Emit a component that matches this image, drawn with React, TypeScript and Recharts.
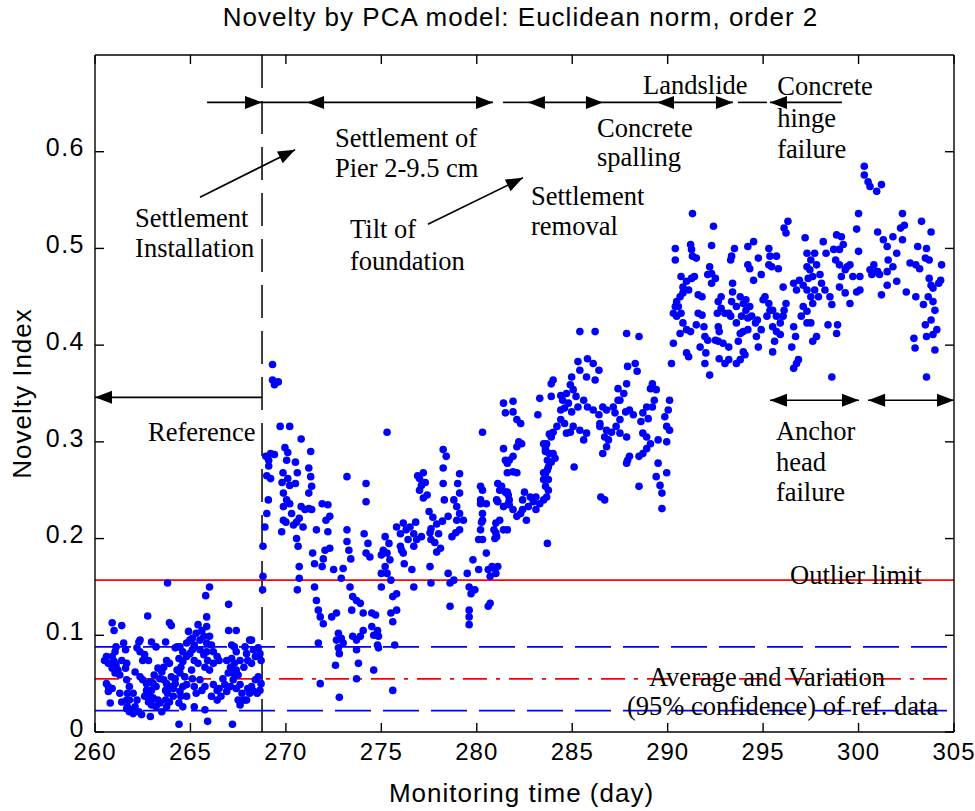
import React from 'react';
import { ScatterChart, Scatter, XAxis, YAxis, ReferenceLine } from 'recharts';

type Pt = [number, number];

const xTicks = [260, 265, 270, 275, 280, 285, 290, 295, 300, 305];
const yTicks = [0, 0.1, 0.2, 0.3, 0.4, 0.5, 0.6];

// reference period (before settlement installation)
const referenceData: Pt[] = [
  [260.6, 0.078], [260.5, 0.074], [260.7, 0.071], [260.9, 0.078], [261.0, 0.073], [261.1, 0.069], [261.2, 0.064], [261.3, 0.059],
  [261.05, 0.061], [260.9, 0.066], [260.6, 0.05], [260.7, 0.047], [260.9, 0.045], [260.7, 0.042], [260.8, 0.03],
  [261.66, 0.054], [261.8, 0.047], [261.7, 0.04], [261.66, 0.033], [261.8, 0.033], [261.7, 0.026], [261.9, 0.023], [262.0, 0.019],
  [262.1, 0.026], [262.2, 0.033], [262.0, 0.04], [261.8, 0.021], [261.66, 0.024], [262.3, 0.021],
  [262.36, 0.095], [262.2, 0.087], [262.36, 0.083], [262.6, 0.08], [262.8, 0.074], [262.5, 0.074],
  [262.1, 0.062], [262.36, 0.057], [262.5, 0.054], [262.7, 0.05], [262.9, 0.052], [263.05, 0.05], [263.2, 0.047], [262.96, 0.043],
  [262.7, 0.043], [262.6, 0.037], [262.9, 0.037], [263.05, 0.035], [263.3, 0.033], [263.4, 0.03], [263.2, 0.026], [262.96, 0.028], [262.8, 0.031],
  [262.44, 0.018], [262.9, 0.016], [263.5, 0.021], [263.75, 0.026], [263.9, 0.031], [263.7, 0.033], [264.1, 0.037], [263.8, 0.04],
  [263.3, 0.066], [263.5, 0.062], [263.1, 0.059], [263.4, 0.055], [263.6, 0.054], [263.75, 0.05], [263.9, 0.047], [263.7, 0.043],
  [264.1, 0.045], [264.2, 0.05], [264.0, 0.057], [264.2, 0.055],
  [264.2, 0.087], [264.45, 0.088], [264.6, 0.083], [264.4, 0.076], [264.6, 0.073], [264.8, 0.078], [264.97, 0.081], [265.1, 0.085],
  [265.2, 0.09], [264.8, 0.092],
  [264.3, 0.064], [264.5, 0.067], [264.45, 0.061], [264.7, 0.057], [264.8, 0.049], [264.6, 0.047], [264.45, 0.042], [264.5, 0.037],
  [264.4, 0.03], [264.8, 0.037], [264.6, 0.026], [265.2, 0.026], [265.1, 0.055], [265.2, 0.047], [265.3, 0.04], [265.06, 0.064],
  [264.4, 0.008], [265.9, 0.011], [267.2, 0.008], [265.76, 0.023],
  [264.9, 0.104], [264.97, 0.095], [265.1, 0.097], [265.3, 0.102], [265.5, 0.095], [265.7, 0.099], [265.85, 0.092], [265.2, 0.088],
  [265.5, 0.085], [265.7, 0.08], [265.85, 0.083], [266.1, 0.09], [266.2, 0.083], [266.4, 0.078], [266.5, 0.074], [265.9, 0.074],
  [266.2, 0.071], [266.0, 0.064], [265.76, 0.067], [265.4, 0.071], [265.2, 0.074],
  [265.5, 0.054], [265.6, 0.043], [265.76, 0.047], [266.2, 0.049], [266.4, 0.043], [266.1, 0.037], [266.4, 0.033], [266.6, 0.037],
  [266.5, 0.045], [266.8, 0.049], [266.9, 0.042], [267.1, 0.047], [266.7, 0.055], [266.98, 0.061],
  [266.9, 0.074], [267.16, 0.076], [267.3, 0.088], [267.16, 0.09], [267.4, 0.083], [267.6, 0.074], [267.3, 0.071], [267.1, 0.067],
  [267.24, 0.061], [267.5, 0.059], [267.4, 0.064], [267.8, 0.067], [268.0, 0.074], [267.94, 0.081], [267.86, 0.088], [268.1, 0.095],
  [268.3, 0.085], [268.4, 0.078], [268.2, 0.071],
  [267.24, 0.054], [267.4, 0.045], [267.6, 0.049], [267.7, 0.04], [267.5, 0.033], [267.8, 0.033], [267.6, 0.028], [268.0, 0.045],
  [268.2, 0.047], [267.94, 0.033], [268.1, 0.04], [268.3, 0.042], [268.5, 0.04], [268.64, 0.043], [268.4, 0.054], [268.55, 0.057],
  [268.7, 0.05], [268.7, 0.074], [268.64, 0.081], [268.55, 0.087],
  [261.4, 0.031], [261.3, 0.04], [261.5, 0.092], [261.6, 0.085], [262.96, 0.093], [263.2, 0.088], [263.75, 0.074], [263.9, 0.071],
  [263.6, 0.067], [261.4, 0.074], [261.66, 0.071], [261.6, 0.066],
  [263.8, 0.154], [266.0, 0.15], [265.8, 0.141], [267.0, 0.132], [262.76, 0.12], [265.85, 0.119], [263.9, 0.113], [264.0, 0.11],
  [260.9, 0.113], [261.0, 0.105], [261.4, 0.11], [265.0, 0.095], [265.4, 0.111], [265.6, 0.105], [265.85, 0.109], [266.0, 0.099],
  [267.0, 0.105], [267.4, 0.105], [268.2, 0.095], [263.7, 0.093], [264.3, 0.088], [262.3, 0.093], [261.1, 0.088], [261.05, 0.083],
];

// settlement of pier / tilt of foundation
const settlementData: Pt[] = [
  [269.3, 0.38], [269.3, 0.364], [269.4, 0.359], [269.6, 0.362], [269.7, 0.316], [270.2, 0.316], [270.8, 0.303], [271.3, 0.29],
  [268.95, 0.285], [269.1, 0.281], [269.2, 0.288], [269.4, 0.287], [269.1, 0.275], [269.0, 0.265], [269.2, 0.262],
  [269.85, 0.268], [270.1, 0.262], [269.8, 0.258], [270.2, 0.255], [270.5, 0.257],
  [269.95, 0.294], [270.1, 0.289], [270.04, 0.281], [270.5, 0.279], [270.6, 0.268],
  [271.2, 0.273], [271.3, 0.264], [271.35, 0.254], [271.2, 0.247],
  [269.08, 0.24], [269.0, 0.226], [268.9, 0.212], [268.8, 0.192], [268.8, 0.161], [268.78, 0.147],
  [269.87, 0.247], [270.04, 0.24], [269.87, 0.233], [270.2, 0.236], [270.3, 0.226],
  [269.87, 0.219], [270.0, 0.217], [269.78, 0.207], [270.4, 0.214], [270.56, 0.217], [270.7, 0.221], [270.9, 0.212],
  [270.56, 0.2], [270.64, 0.192], [270.7, 0.171], [270.8, 0.233], [271.0, 0.23], [271.2, 0.231], [271.35, 0.23],
  [270.7, 0.159], [270.6, 0.147], [271.6, 0.209], [271.4, 0.185], [271.5, 0.174], [271.9, 0.171],
  [271.9, 0.236], [272.2, 0.235], [272.3, 0.223], [272.1, 0.219], [272.2, 0.207], [272.05, 0.188], [272.3, 0.19], [271.96, 0.179],
  [271.5, 0.15], [271.6, 0.136], [271.7, 0.126], [271.8, 0.119], [271.96, 0.112], [271.7, 0.092], [271.8, 0.05],
  [272.5, 0.168], [273.0, 0.169], [272.9, 0.159], [272.4, 0.119], [272.65, 0.123],
  [272.75, 0.102], [272.65, 0.095], [272.9, 0.097], [272.75, 0.087], [273.0, 0.092], [272.8, 0.081], [272.6, 0.069], [272.8, 0.036],
  [273.2, 0.209], [273.2, 0.197], [273.3, 0.188], [273.4, 0.179], [273.2, 0.264],
  [273.36, 0.15], [273.5, 0.14], [273.7, 0.136], [273.9, 0.133], [273.45, 0.126], [274.05, 0.123],
  [273.5, 0.099], [273.7, 0.095], [273.9, 0.099], [274.05, 0.105], [273.7, 0.085], [273.8, 0.071], [273.7, 0.055],
  [274.2, 0.257], [274.2, 0.238], [274.1, 0.205], [274.3, 0.195], [274.2, 0.185], [274.4, 0.181], [274.5, 0.123], [274.7, 0.121],
  [274.5, 0.109], [274.6, 0.1], [274.8, 0.105], [274.85, 0.099], [274.8, 0.09], [274.85, 0.087], [274.6, 0.064],
  [275.0, 0.15], [275.0, 0.164], [275.2, 0.171], [275.3, 0.185], [275.1, 0.188], [275.0, 0.183], [275.2, 0.202], [275.4, 0.195],
  [275.45, 0.178], [275.3, 0.164], [275.3, 0.31],
  [275.5, 0.157], [275.6, 0.14], [275.8, 0.143], [275.5, 0.123], [275.8, 0.126], [275.6, 0.114], [275.7, 0.09], [275.6, 0.043],
  [275.8, 0.212], [276.0, 0.205], [276.15, 0.216], [276.3, 0.209], [276.0, 0.192], [276.15, 0.185], [276.4, 0.199], [276.2, 0.174], [276.06, 0.188],
  [276.5, 0.212], [276.7, 0.205], [276.8, 0.217], [276.7, 0.192], [276.85, 0.199], [277.1, 0.202], [276.6, 0.168], [276.7, 0.15],
  [276.9, 0.265], [277.0, 0.262], [277.2, 0.268], [277.1, 0.255], [277.0, 0.25], [277.3, 0.258], [277.4, 0.245], [277.2, 0.242],
  [277.5, 0.228], [277.7, 0.222], [277.9, 0.215], [277.6, 0.21], [278.0, 0.205], [278.2, 0.218], [277.8, 0.196], [278.1, 0.19], [277.9, 0.186],
  [277.55, 0.206], [277.6, 0.199], [277.55, 0.171], [277.6, 0.154],
  [278.24, 0.292], [278.4, 0.285], [278.24, 0.273], [278.24, 0.257], [278.3, 0.24], [278.5, 0.223],
  [278.5, 0.164], [278.6, 0.154], [278.8, 0.157], [278.6, 0.13],
  [278.8, 0.24], [278.95, 0.233], [279.1, 0.247], [279.0, 0.257], [279.1, 0.267],
  [278.7, 0.202], [278.9, 0.206], [279.1, 0.209], [279.3, 0.219], [279.1, 0.226], [278.95, 0.219],
  [279.5, 0.164], [279.6, 0.15], [279.7, 0.143], [279.9, 0.147], [279.6, 0.126], [279.6, 0.119], [279.6, 0.111],
  [279.8, 0.178], [280.1, 0.168], [280.1, 0.199], [280.2, 0.254], [280.25, 0.217], [280.2, 0.236], [280.3, 0.226], [280.3, 0.31],
  [280.5, 0.185], [280.7, 0.133], [280.6, 0.13],
  [280.6, 0.168], [280.8, 0.171], [280.95, 0.169], [281.1, 0.171], [280.7, 0.161], [281.0, 0.164],
  [281.0, 0.216], [281.2, 0.219], [281.0, 0.206], [280.95, 0.2], [281.1, 0.238], [281.6, 0.209], [281.65, 0.236],
  [280.3, 0.25], [280.2, 0.24], [280.5, 0.236], [281.2, 0.25], [281.6, 0.248], [281.7, 0.24], [281.4, 0.233], [281.04, 0.24],
  [281.9, 0.23], [282.1, 0.223], [282.3, 0.226], [280.9, 0.209], [281.04, 0.202], [281.4, 0.209],
  [280.3, 0.219], [280.2, 0.209], [280.3, 0.199],
];

// settlement removal / concrete spalling
const removalData: Pt[] = [
  [281.4, 0.34], [281.9, 0.342], [281.5, 0.33], [281.9, 0.331], [282.1, 0.323], [282.3, 0.319],
  [281.4, 0.293], [281.5, 0.281], [281.6, 0.278], [281.7, 0.281], [281.9, 0.285], [282.1, 0.295], [282.2, 0.3], [282.35, 0.298],
  [281.6, 0.268], [281.9, 0.269], [282.1, 0.268], [281.1, 0.257], [281.3, 0.254], [281.5, 0.248], [281.65, 0.245], [281.7, 0.235],
  [282.5, 0.248], [282.8, 0.243], [282.96, 0.238], [283.1, 0.243], [283.3, 0.236], [283.5, 0.24], [283.1, 0.23], [282.6, 0.219],
  [283.3, 0.345], [283.2, 0.328],
  [283.5, 0.298], [283.6, 0.29], [283.7, 0.281], [283.5, 0.268], [283.6, 0.254], [283.75, 0.261], [283.7, 0.195], [283.8, 0.308],
  [285.4, 0.414], [286.2, 0.414], [287.85, 0.412], [288.5, 0.409],
  [285.3, 0.383], [285.8, 0.386], [286.1, 0.381], [286.4, 0.374], [285.4, 0.374], [285.75, 0.367], [286.2, 0.364],
  [284.0, 0.364], [283.9, 0.36],
  [284.97, 0.367], [284.9, 0.359], [285.05, 0.354], [284.7, 0.35], [284.4, 0.348], [284.5, 0.343], [284.8, 0.34], [284.6, 0.335],
  [284.97, 0.331], [285.2, 0.347], [285.3, 0.336], [285.6, 0.343], [285.8, 0.336], [286.1, 0.333], [286.4, 0.328], [286.45, 0.319],
  [286.8, 0.333], [287.15, 0.336], [287.4, 0.343], [287.7, 0.35], [287.85, 0.36], [287.9, 0.378], [288.3, 0.381], [288.4, 0.373],
  [287.4, 0.355], [287.5, 0.343], [287.8, 0.331], [288.0, 0.333], [288.2, 0.328], [287.5, 0.323], [287.24, 0.33],
  [289.2, 0.36], [289.1, 0.355], [289.4, 0.354], [289.3, 0.343], [289.2, 0.336], [288.9, 0.336], [288.7, 0.33], [288.98, 0.324], [288.6, 0.321],
  [289.85, 0.326], [290.1, 0.343], [290.03, 0.333], [289.95, 0.316], [290.1, 0.312], [289.95, 0.3], [289.5, 0.302],
  [288.7, 0.309], [288.9, 0.305], [289.1, 0.298], [288.9, 0.293], [288.7, 0.288], [288.5, 0.285], [288.0, 0.285], [287.85, 0.278], [287.9, 0.281],
  [289.5, 0.278], [289.4, 0.264], [289.95, 0.268], [289.6, 0.255], [289.7, 0.247], [289.7, 0.231], [288.5, 0.254],
  [286.6, 0.336], [286.45, 0.316], [286.8, 0.312], [286.7, 0.305], [286.9, 0.302], [286.8, 0.295], [286.6, 0.288], [287.06, 0.31],
  [287.3, 0.316], [287.5, 0.309], [287.85, 0.305],
  [285.1, 0.274], [286.5, 0.243], [286.7, 0.24],
  [283.9, 0.347], [284.4, 0.333], [284.4, 0.323], [284.2, 0.316], [284.0, 0.31], [283.9, 0.305], [283.66, 0.298], [283.6, 0.295],
  [284.6, 0.319], [284.7, 0.309], [284.9, 0.31], [285.05, 0.316], [285.4, 0.312], [285.75, 0.309], [285.6, 0.302],
  [283.6, 0.292], [283.8, 0.288], [284.0, 0.288], [284.1, 0.283], [283.9, 0.279], [283.75, 0.274], [283.7, 0.271], [283.6, 0.267],
  [283.5, 0.261], [283.75, 0.25], [282.4, 0.24], [282.7, 0.233], [282.4, 0.23], [283.66, 0.243],
];

// landslide / concrete hinge failure
const failureData: Pt[] = [
  [290.4, 0.5], [290.4, 0.488], [291.2, 0.504], [291.25, 0.499], [291.3, 0.492], [291.5, 0.49], [292.3, 0.503],
  [290.7, 0.471], [290.99, 0.466], [291.25, 0.469], [291.4, 0.471], [290.8, 0.46], [291.1, 0.457], [290.8, 0.454], [290.65, 0.45],
  [290.47, 0.445], [290.4, 0.44], [290.56, 0.44], [290.3, 0.433], [290.47, 0.43], [290.7, 0.433], [290.8, 0.423], [290.65, 0.412],
  [290.99, 0.416], [291.2, 0.414], [290.3, 0.402], [290.2, 0.381],
  [291.6, 0.452], [291.8, 0.45], [291.6, 0.433], [291.8, 0.431], [291.5, 0.421], [291.9, 0.419], [291.7, 0.398], [291.95, 0.409],
  [292.1, 0.405], [291.1, 0.388], [292.0, 0.392], [291.95, 0.381], [292.2, 0.369],
  [292.2, 0.481], [292.3, 0.474], [292.1, 0.473], [292.5, 0.469], [292.3, 0.464],
  [292.8, 0.45], [292.65, 0.445], [292.8, 0.438], [292.6, 0.433], [293.0, 0.433], [293.2, 0.433], [292.65, 0.419], [292.7, 0.414],
  [292.5, 0.405], [292.65, 0.404], [292.9, 0.402], [293.2, 0.398], [292.7, 0.386], [293.2, 0.385], [293.0, 0.381],
  [293.3, 0.488], [293.35, 0.492], [293.5, 0.5], [293.4, 0.464], [293.4, 0.455], [293.35, 0.445], [293.6, 0.44], [293.3, 0.43],
  [293.6, 0.423], [293.8, 0.412], [293.7, 0.404], [293.96, 0.414], [293.6, 0.381], [293.8, 0.385], [294.05, 0.39], [293.96, 0.393],
  [293.8, 0.45], [293.96, 0.443], [294.1, 0.447], [294.3, 0.44], [294.1, 0.436], [293.87, 0.43], [294.2, 0.428], [294.4, 0.43],
  [294.6, 0.423], [294.7, 0.426], [294.2, 0.416],
  [294.2, 0.502], [294.5, 0.507], [294.3, 0.479], [294.5, 0.467], [294.2, 0.483],
  [294.75, 0.49], [295.3, 0.5], [295.36, 0.492], [295.3, 0.483], [294.9, 0.473], [295.1, 0.45], [295.0, 0.447], [295.3, 0.443],
  [294.65, 0.409], [294.75, 0.398], [294.9, 0.416], [295.36, 0.436], [295.2, 0.43],
  [295.45, 0.481], [295.8, 0.479], [295.7, 0.492],
  [295.5, 0.436], [295.7, 0.43], [295.9, 0.423], [295.5, 0.419], [295.7, 0.414], [295.9, 0.411], [295.6, 0.404], [295.5, 0.393],
  [296.05, 0.43], [296.1, 0.436], [296.05, 0.46], [296.2, 0.443],
  [296.6, 0.419], [296.7, 0.409], [296.5, 0.398], [296.75, 0.381], [296.6, 0.376], [296.85, 0.385],
  [296.2, 0.516], [297.2, 0.511], [296.3, 0.528], [296.1, 0.521],
  [296.6, 0.464], [296.75, 0.457], [296.9, 0.467], [297.1, 0.462], [297.3, 0.457], [297.36, 0.469], [297.45, 0.478], [297.3, 0.481],
  [297.5, 0.488], [297.7, 0.495], [297.3, 0.495], [297.8, 0.483], [297.6, 0.471], [297.98, 0.473], [298.06, 0.464], [298.24, 0.457],
  [297.7, 0.457], [297.9, 0.45], [297.5, 0.45], [297.6, 0.443], [297.1, 0.44], [297.0, 0.43], [297.3, 0.423], [297.5, 0.423],
  [297.6, 0.404], [297.8, 0.409], [297.3, 0.435],
  [298.15, 0.507], [298.3, 0.495], [298.7, 0.499], [298.85, 0.514], [299.1, 0.512], [299.2, 0.504], [299.0, 0.499], [298.8, 0.488],
  [299.0, 0.483], [299.3, 0.478], [299.4, 0.481], [299.55, 0.483], [299.7, 0.471], [300.07, 0.471], [299.1, 0.471], [299.0, 0.46],
  [299.3, 0.454], [299.55, 0.443], [299.9, 0.455], [300.07, 0.457], [298.5, 0.45], [298.6, 0.442], [298.4, 0.421], [298.9, 0.421],
  [298.85, 0.412], [298.6, 0.367],
  [291.3, 0.536], [292.4, 0.523], [290.99, 0.392], [300.0, 0.536], [299.9, 0.52], [300.0, 0.497],
];

// anchor head failure
const anchorData: Pt[] = [
  [300.3, 0.585], [300.3, 0.576], [300.5, 0.569], [300.6, 0.564], [300.95, 0.559], [301.2, 0.566],
  [302.3, 0.536], [302.4, 0.524], [302.2, 0.521], [302.3, 0.509], [303.3, 0.528], [303.8, 0.517], [303.1, 0.502], [303.56, 0.5],
  [301.0, 0.517], [301.3, 0.509], [301.5, 0.502], [301.8, 0.512], [302.0, 0.495], [301.55, 0.488], [301.8, 0.481], [301.5, 0.476], [301.0, 0.476],
  [302.7, 0.485], [303.0, 0.483], [303.2, 0.479], [303.5, 0.49], [303.7, 0.488], [304.35, 0.483], [304.3, 0.467], [304.2, 0.464],
  [303.7, 0.469], [303.8, 0.462], [303.9, 0.459], [303.65, 0.45],
  [300.8, 0.483], [300.95, 0.476], [300.7, 0.473], [300.6, 0.478], [301.1, 0.473], [301.2, 0.452], [301.5, 0.462], [302.0, 0.466], [302.5, 0.455],
  [303.0, 0.45], [303.4, 0.442], [303.9, 0.445], [304.0, 0.436], [303.8, 0.426], [304.1, 0.416], [303.9, 0.411], [304.0, 0.395],
  [303.56, 0.409], [303.5, 0.421], [302.9, 0.407], [302.96, 0.397], [303.56, 0.367],
];

const outlierLimit = 0.157;
const upperBand = 0.088;
const refMean = 0.055;
const lowerBand = 0.022;
const installDay = 268.75;

// horizontal event arrows: [from day, to day, value, heads]
const topRow = 0.651;
const eventArrows: [number, number, number, string][] = [
  [265.87, 268.75, topRow, 'end'],
  [268.75, 271.11, topRow, 'none'],
  [271.11, 280.85, topRow, 'both'],
  [281.37, 282.68, topRow, 'none'],
  [282.68, 286.61, topRow, 'both'],
  [286.61, 289.44, topRow, 'none'],
  [289.44, 293.42, topRow, 'both'],
  [293.68, 295.2, topRow, 'none'],
  [295.36, 299.13, topRow, 'start'],
  [260, 268.75, 0.346, 'start'],
  [295.36, 300.02, 0.343, 'both'],
  [300.5, 305, 0.343, 'both'],
];

// slanted pointers: [x1, y1, x2, y2]
const pointers: [number, number, number, number][] = [
  [265.5, 0.553, 270.48, 0.602],
  [277.44, 0.525, 282.42, 0.573],
];

// notes: [day, value, line gap, lines]
const notes: [number, number, number, string[]][] = [
  [272.57, 0.614, 30, ['Settlement of', 'Pier 2-9.5 cm']],
  [262.1, 0.531, 30, ['Settlement', 'Installation']],
  [273.36, 0.52, 32, ['Tilt of', 'foundation']],
  [286.3, 0.624, 29, ['Concrete', 'spalling']],
  [288.71, 0.669, 30, ['Landslide']],
  [295.74, 0.6675, 31.5, ['Concrete', 'hinge', 'failure']],
  [282.84, 0.554, 30, ['Settlement', 'removal']],
  [262.78, 0.31, 30, ['Reference']],
  [295.67, 0.3105, 30.5, ['Anchor', 'head', 'failure']],
  [296.41, 0.162, 30, ['Outlier limit']],
  [289.02, 0.057, 30, ['Average and Variation']],
  [287.87, 0.027, 30, ['(95% confidence) of ref. data']],
];

const SANS = "'Liberation Sans', Arial, sans-serif";
const SERIF = "'Liberation Serif', 'Times New Roman', serif";
const BLUE = '#0000ff';
const RED = '#ff0000';
const frame = { stroke: '#000', strokeWidth: 1.4 };

const headPoints = (tx: number, ty: number, fx: number, fy: number) => {
  const len = Math.hypot(tx - fx, ty - fy) || 1;
  const ux = (tx - fx) / len;
  const uy = (ty - fy) / len;
  const bx = tx - ux * 17;
  const by = ty - uy * 17;
  return `${tx},${ty} ${bx - uy * 6.5},${by + ux * 6.5} ${bx + uy * 6.5},${by - ux * 6.5}`;
};

const arrowShape = (heads: string) => (p: any) => (
  <g>
    <line x1={p.x1} y1={p.y1} x2={p.x2} y2={p.y2} stroke="#000" strokeWidth={1.6} />
    {(heads === 'end' || heads === 'both') && <polygon points={headPoints(p.x2, p.y2, p.x1, p.y1)} fill="#000" />}
    {(heads === 'start' || heads === 'both') && <polygon points={headPoints(p.x1, p.y1, p.x2, p.y2)} fill="#000" />}
  </g>
);

const BottomTick = (p: any) => (
  <text x={p.x} y={p.y} dy="0.71em" textAnchor="middle" fontFamily={SANS} fontSize={24} letterSpacing={1} fill="#000">
    {p.payload.value}
  </text>
);

const LeftTick = (p: any) => (
  <text x={p.x} y={p.y - 4} dy="0.35em" textAnchor="end" fontFamily={SANS} fontSize={25} letterSpacing={1.5} fill="#000">
    {p.payload.value}
  </text>
);

const NoTick = () => <g />;

const Dot = (p: any) => <circle cx={p.cx} cy={p.cy} r={3.8} fill={BLUE} />;

const NoteText = (p: any) => {
  const [, , gap, lines] = p.payload.note;
  return (
    <text x={p.cx} y={p.cy} fontFamily={SERIF} fontSize={26.5} fill="#000">
      {lines.map((t: string, i: number) => (
        <tspan key={i} x={p.cx} dy={i === 0 ? '0.33em' : gap}>{t}</tspan>
      ))}
    </text>
  );
};

const toXY = (pts: Pt[]) => pts.map(([x, y]) => ({ x, y }));

export default function App() {
  const axes = { xAxisId: 'b', yAxisId: 'l' };
  return (
    <div style={{ position: 'absolute', left: 0, top: 0 }}>
      <ScatterChart width={975} height={811} margin={{ top: 0, right: 0, bottom: 0, left: 0 }}>
        <XAxis
          xAxisId="b" type="number" dataKey="x" domain={[260, 305]} ticks={xTicks} allowDataOverflow interval={0}
          orientation="bottom" height={79} tickSize={-9} tickMargin={20} tick={BottomTick}
          axisLine={frame} tickLine={frame}
          label={(p: any) => (
            <text x={p.viewBox.x + p.viewBox.width / 2 - 3} y={p.viewBox.y + 70} textAnchor="middle"
              fontFamily={SANS} fontSize={26} letterSpacing={1} fill="#000">Monitoring time (day)</text>
          )}
        />
        <XAxis
          xAxisId="t" type="number" dataKey="x" domain={[260, 305]} ticks={xTicks} allowDataOverflow interval={0}
          orientation="top" height={55} tickSize={-9} tick={NoTick} axisLine={frame} tickLine={frame}
          label={(p: any) => (
            <text x={p.viewBox.x + p.viewBox.width / 2 - 4} y={26} textAnchor="middle"
              fontFamily={SANS} fontSize={26} letterSpacing={1} fill="#000">Novelty by PCA model: Euclidean norm, order 2</text>
          )}
        />
        <YAxis
          yAxisId="l" type="number" dataKey="y" domain={[0, 0.7]} ticks={yTicks} allowDataOverflow interval={0}
          width={95} tickSize={-9} tickMargin={19} tick={LeftTick} axisLine={frame} tickLine={frame}
          label={(p: any) => {
            const cy = p.viewBox.y + p.viewBox.height / 2;
            return (
              <text x={22} y={cy} dy="0.35em" textAnchor="middle" transform={`rotate(-90 22 ${cy})`}
                fontFamily={SANS} fontSize={26} letterSpacing={1} fill="#000">Novelty Index</text>
            );
          }}
        />
        <YAxis
          yAxisId="r" type="number" dataKey="y" domain={[0, 0.7]} ticks={yTicks} allowDataOverflow interval={0}
          orientation="right" width={21} tickSize={-9} tick={NoTick} axisLine={frame} tickLine={frame}
        />

        <ReferenceLine {...axes} x={installDay} stroke="#000" strokeWidth={1.5} strokeDasharray="33 13" />

        <Scatter {...axes} data={toXY(referenceData)} shape={Dot} isAnimationActive={false} />
        <Scatter {...axes} data={toXY(settlementData)} shape={Dot} isAnimationActive={false} />
        <Scatter {...axes} data={toXY(removalData)} shape={Dot} isAnimationActive={false} />
        <Scatter {...axes} data={toXY(failureData)} shape={Dot} isAnimationActive={false} />
        <Scatter {...axes} data={toXY(anchorData)} shape={Dot} isAnimationActive={false} />

        <ReferenceLine {...axes} y={outlierLimit} stroke={RED} strokeWidth={1.8} />
        <ReferenceLine {...axes} y={upperBand} stroke={BLUE} strokeWidth={1.8} strokeDasharray="36 12" />
        <ReferenceLine {...axes} y={refMean} stroke={RED} strokeWidth={1.8} strokeDasharray="24 9 4 9" />
        <ReferenceLine {...axes} y={lowerBand} stroke={BLUE} strokeWidth={1.8} strokeDasharray="36 12" />

        {eventArrows.map(([a, b, v, heads], i) => (
          <ReferenceLine key={`ev${i}`} {...axes} ifOverflow="visible"
            segment={[{ x: a, y: v }, { x: b, y: v }]} shape={arrowShape(heads)} />
        ))}
        {pointers.map(([x1, y1, x2, y2], i) => (
          <ReferenceLine key={`pt${i}`} {...axes} ifOverflow="visible"
            segment={[{ x: x1, y: y1 }, { x: x2, y: y2 }]} shape={arrowShape('end')} />
        ))}

        <Scatter {...axes} data={notes.map((n) => ({ x: n[0], y: n[1], note: n }))} shape={NoteText} isAnimationActive={false} />
      </ScatterChart>
    </div>
  );
}
